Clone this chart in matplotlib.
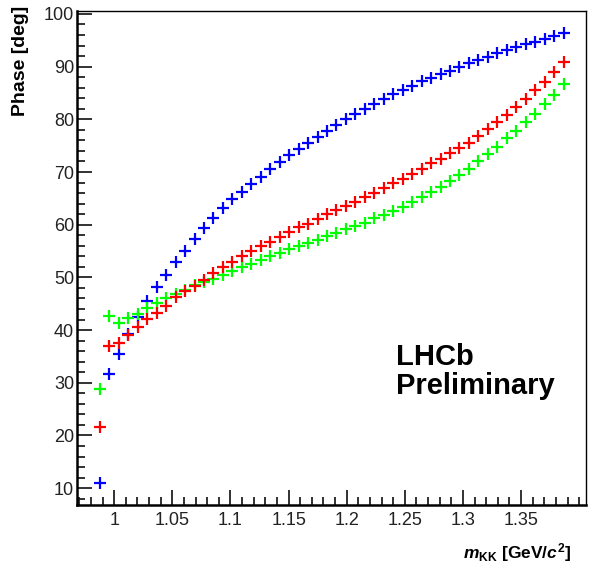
import matplotlib
matplotlib.use('Agg')
import matplotlib.pyplot as plt
from matplotlib.ticker import MultipleLocator, FixedLocator

plt.rcParams['font.family'] = ['Liberation Sans', 'DejaVu Sans']
plt.rcParams['mathtext.fontset'] = 'custom'
plt.rcParams['mathtext.it'] = 'Liberation Sans:italic:bold'
plt.rcParams['mathtext.rm'] = 'Liberation Sans:bold'
plt.rcParams['mathtext.bf'] = 'Liberation Sans:bold'

# m_KK bin centres [GeV/c^2]
m_kk = [0.9877, 0.9958, 1.0040, 1.0121, 1.0203, 1.0284, 1.0365, 1.0447, 1.0528, 1.0610,
        1.0691, 1.0772, 1.0854, 1.0935, 1.1017, 1.1098, 1.1179, 1.1261, 1.1342, 1.1424,
        1.1505, 1.1586, 1.1668, 1.1749, 1.1831, 1.1912, 1.1993, 1.2075, 1.2156, 1.2238,
        1.2319, 1.2400, 1.2482, 1.2563, 1.2645, 1.2726, 1.2807, 1.2889, 1.2970, 1.3052,
        1.3133, 1.3214, 1.3296, 1.3377, 1.3459, 1.3540, 1.3621, 1.3703, 1.3784, 1.3866]

# phases [deg]
phase_blue = [11.0, 31.6, 35.5, 39.2, 42.4, 45.6, 48.1, 50.5, 52.9, 55.1,
              57.25, 59.4, 61.3, 63.1, 64.8, 66.2, 67.7, 69.0, 70.5, 71.9,
              73.2, 74.4, 75.6, 76.7, 77.8, 78.9, 80.0, 81.0, 82.0, 82.9,
              83.9, 84.8, 85.6, 86.4, 87.2, 87.9, 88.6, 89.2, 89.9, 90.6,
              91.2, 91.9, 92.5, 93.2, 93.7, 94.25, 94.75, 95.3, 95.8, 96.3]

phase_red = [21.6, 37.0, 37.5, 39.0, 40.5, 42.1, 43.3, 44.65, 46.2, 47.4,
             48.4, 49.6, 50.9, 51.9, 53.0, 54.1, 55.0, 56.0, 56.8, 57.75,
             58.6, 59.5, 60.1, 61.0, 62.0, 62.8, 63.6, 64.4, 65.2, 66.1,
             66.9, 67.9, 68.7, 69.6, 70.6, 71.7, 72.5, 73.6, 74.6, 75.6,
             76.85, 78.1, 79.4, 80.8, 82.3, 83.9, 85.6, 87.15, 89.05, 90.95]

phase_green = [28.8, 42.6, 41.4, 42.25, 43.0, 44.1, 45.2, 46.05, 46.8, 47.6,
               48.5, 49.1, 49.7, 50.5, 51.2, 51.9, 52.6, 53.3, 54.0, 54.7,
               55.3, 55.9, 56.5, 57.1, 57.8, 58.4, 59.1, 59.8, 60.4, 61.2,
               61.9, 62.6, 63.4, 64.4, 65.3, 66.3, 67.2, 68.3, 69.45, 70.5,
               72.0, 73.4, 74.8, 76.4, 77.85, 79.4, 81.0, 82.9, 84.6, 86.7]

x_ticks = [1.0, 1.05, 1.1, 1.15, 1.2, 1.25, 1.3, 1.35]
x_tick_labels = ['1', '1.05', '1.1', '1.15', '1.2', '1.25', '1.3', '1.35']

fig = plt.figure(figsize=(5.94, 5.68), dpi=100)
ax = fig.add_axes([0.1296, 0.1109, 0.8569, 0.8689])

mk = dict(marker='+', linestyle='none', markersize=8, markeredgewidth=1.6)
ax.plot(m_kk, phase_blue, color='#0000ff', **mk)
ax.plot(m_kk, phase_green, color='#00ff00', **mk)
ax.plot(m_kk, phase_red, color='#ff0000', **mk)

ax.set_xlim(0.968, 1.4058)
ax.set_ylim(6.8, 100.47)

ax.xaxis.set_major_locator(FixedLocator(x_ticks))
ax.set_xticklabels(x_tick_labels)
ax.xaxis.set_minor_locator(MultipleLocator(0.01))
ax.yaxis.set_major_locator(MultipleLocator(10))
ax.yaxis.set_minor_locator(MultipleLocator(2))

ax.tick_params(which='both', direction='in', top=False, right=False,
               labelsize=13, labelcolor='#222222', color='#222222', width=1.3)
ax.tick_params(which='major', length=11)
ax.tick_params(which='minor', length=5.5)
ax.tick_params(axis='x', pad=5)
ax.tick_params(axis='y', pad=2)

for s in ['left', 'bottom']:
    ax.spines[s].set_linewidth(1.8)
for s in ['top', 'right']:
    ax.spines[s].set_linewidth(1.0)

fig.text(0.034, 0.99, 'Phase [deg]', rotation=90, ha='center', va='top',
         fontsize=14, fontweight='bold')
fig.text(0.961, 0.028, r'$m_{\mathrm{KK}}$ [GeV/$c^{2}$]', ha='right', va='center',
         fontsize=12.5, fontweight='bold')

ax.text(1.242, 32.1, 'LHCb\nPreliminary', fontsize=21, fontweight='bold',
        ha='left', va='center', linespacing=1.05)

fig.savefig('out.png', dpi=100)
